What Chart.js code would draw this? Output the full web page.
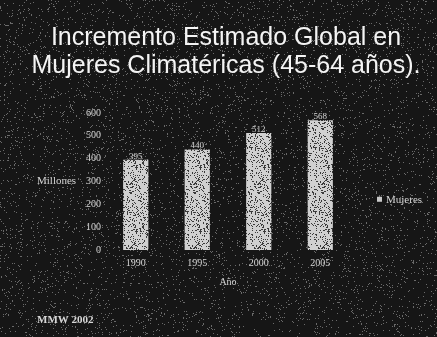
<!DOCTYPE html>
<html>
<head>
<meta charset="utf-8">
<script src="https://cdn.jsdelivr.net/npm/chart.js@4.4.1/dist/chart.umd.min.js"></script>
<style>
  html, body { margin: 0; padding: 0; background: #161616; }
</style>
</head>
<body>
<canvas id="myChart" width="437" height="337"></canvas>
<script>
// Datos: mujeres de 45-64 años, en millones
var years = ['1990', '1995', '2000', '2005'];
var mujeres = [395, 440, 512, 568];
var yMax = 600;
var yStep = 100;

var serif = '"Liberation Serif", "DejaVu Serif", serif';
var textColor = '#d6d6d6';

// textura granulada (fotocopia) para fondo y barras
function grain(w, h, base, dot, amount, seed) {
    var cv = document.createElement('canvas');
    cv.width = w; cv.height = h;
    var g = cv.getContext('2d');
    g.fillStyle = base;
    g.fillRect(0, 0, w, h);
    g.fillStyle = dot;
    var s = seed;
    function next() {
        s = (s * 1103515245 + 12345) % 2147483648;
        return Math.floor(s / 65536) / 32768;
    }
    for (var i = 0; i < w * h * amount; i++) {
        g.fillRect(Math.floor(next() * w), Math.floor(next() * h), 1, 1);
    }
    return cv;
}

var bgTex = grain(437, 337, '#161616', '#6a6a6a', 0.07, 7);
var barPattern = document.createElement('canvas').getContext('2d')
    .createPattern(grain(64, 64, '#d0d0d0', '#3a3a3a', 0.22, 3), 'repeat');

var slideExtras = {
    id: 'slideExtras',
    beforeDraw: function (chart) {
        chart.ctx.drawImage(bgTex, 0, 0);
    },
    afterDatasetsDraw: function (chart) {
        var c = chart.ctx;
        var meta = chart.getDatasetMeta(0);
        c.save();
        c.font = '9px ' + serif;
        c.fillStyle = textColor;
        c.textAlign = 'center';
        c.textBaseline = 'bottom';
        meta.data.forEach(function (bar, i) {
            c.fillText(mujeres[i], bar.x, bar.y + 1);
        });
        c.restore();
    },
    afterDraw: function (chart) {
        var c = chart.ctx;
        var y = chart.scales.y;
        var area = chart.chartArea;
        var ds = chart.data.datasets[0];
        c.save();
        c.fillStyle = textColor;
        c.textBaseline = 'middle';
        c.font = '11px ' + serif;
        c.fillText('Millones', 37, y.getPixelForValue(300));
        // leyenda
        var lx = area.right + 26, ly = y.getPixelForValue(220);
        c.fillStyle = '#c9c9c9';
        c.fillRect(lx, ly - 3, 5, 5);
        c.fillStyle = textColor;
        c.fillText(ds.label, lx + 9, ly);
        c.font = 'bold 11px ' + serif;
        c.fillText('MMW 2002', 37, 320);
        c.restore();
    }
};

var ctx = document.getElementById('myChart').getContext('2d');
var chart = new Chart(ctx, {
    type: 'bar',
    data: {
        labels: years,
        datasets: [{
            label: 'Mujeres',
            data: mujeres,
            backgroundColor: barPattern,
            borderWidth: 0,
            barPercentage: 0.82,
            categoryPercentage: 0.5
        }]
    },
    options: {
        responsive: false,
        animation: false,
        devicePixelRatio: 1,
        layout: {
            padding: { left: 15, right: 0, top: 0, bottom: 45 }
        },
        scales: {
            x: {
                grid: { display: false, drawTicks: false },
                border: { display: false },
                ticks: { color: textColor, font: { family: serif, size: 10 }, padding: 7 },
                title: { display: true, text: 'Año', color: textColor, font: { family: serif, size: 10 } },
                afterFit: function (scale) { scale.height = 42; }
            },
            y: {
                min: 0,
                max: yMax,
                grid: { display: false, drawTicks: false },
                border: { display: false },
                ticks: { stepSize: yStep, color: textColor, font: { family: serif, size: 10 }, padding: 4 },
                afterFit: function (scale) { scale.width = 90; }
            },
            // espacio a la derecha para la leyenda
            side: {
                type: 'linear',
                position: 'right',
                grid: { display: false, drawTicks: false },
                border: { display: false },
                ticks: { display: false },
                afterFit: function (scale) { scale.width = 86; }
            }
        },
        plugins: {
            legend: { display: false },
            title: {
                display: true,
                text: ['Incremento Estimado Global en', 'Mujeres Climatéricas (45-64 años).'],
                color: '#f4f4f4',
                font: { family: '"Liberation Sans", Arial, sans-serif', size: 25, weight: 'normal', lineHeight: 1.12 },
                padding: { top: 24, bottom: 33 }
            },
            tooltip: { enabled: false }
        }
    },
    plugins: [slideExtras]
});
</script>
</body>
</html>
